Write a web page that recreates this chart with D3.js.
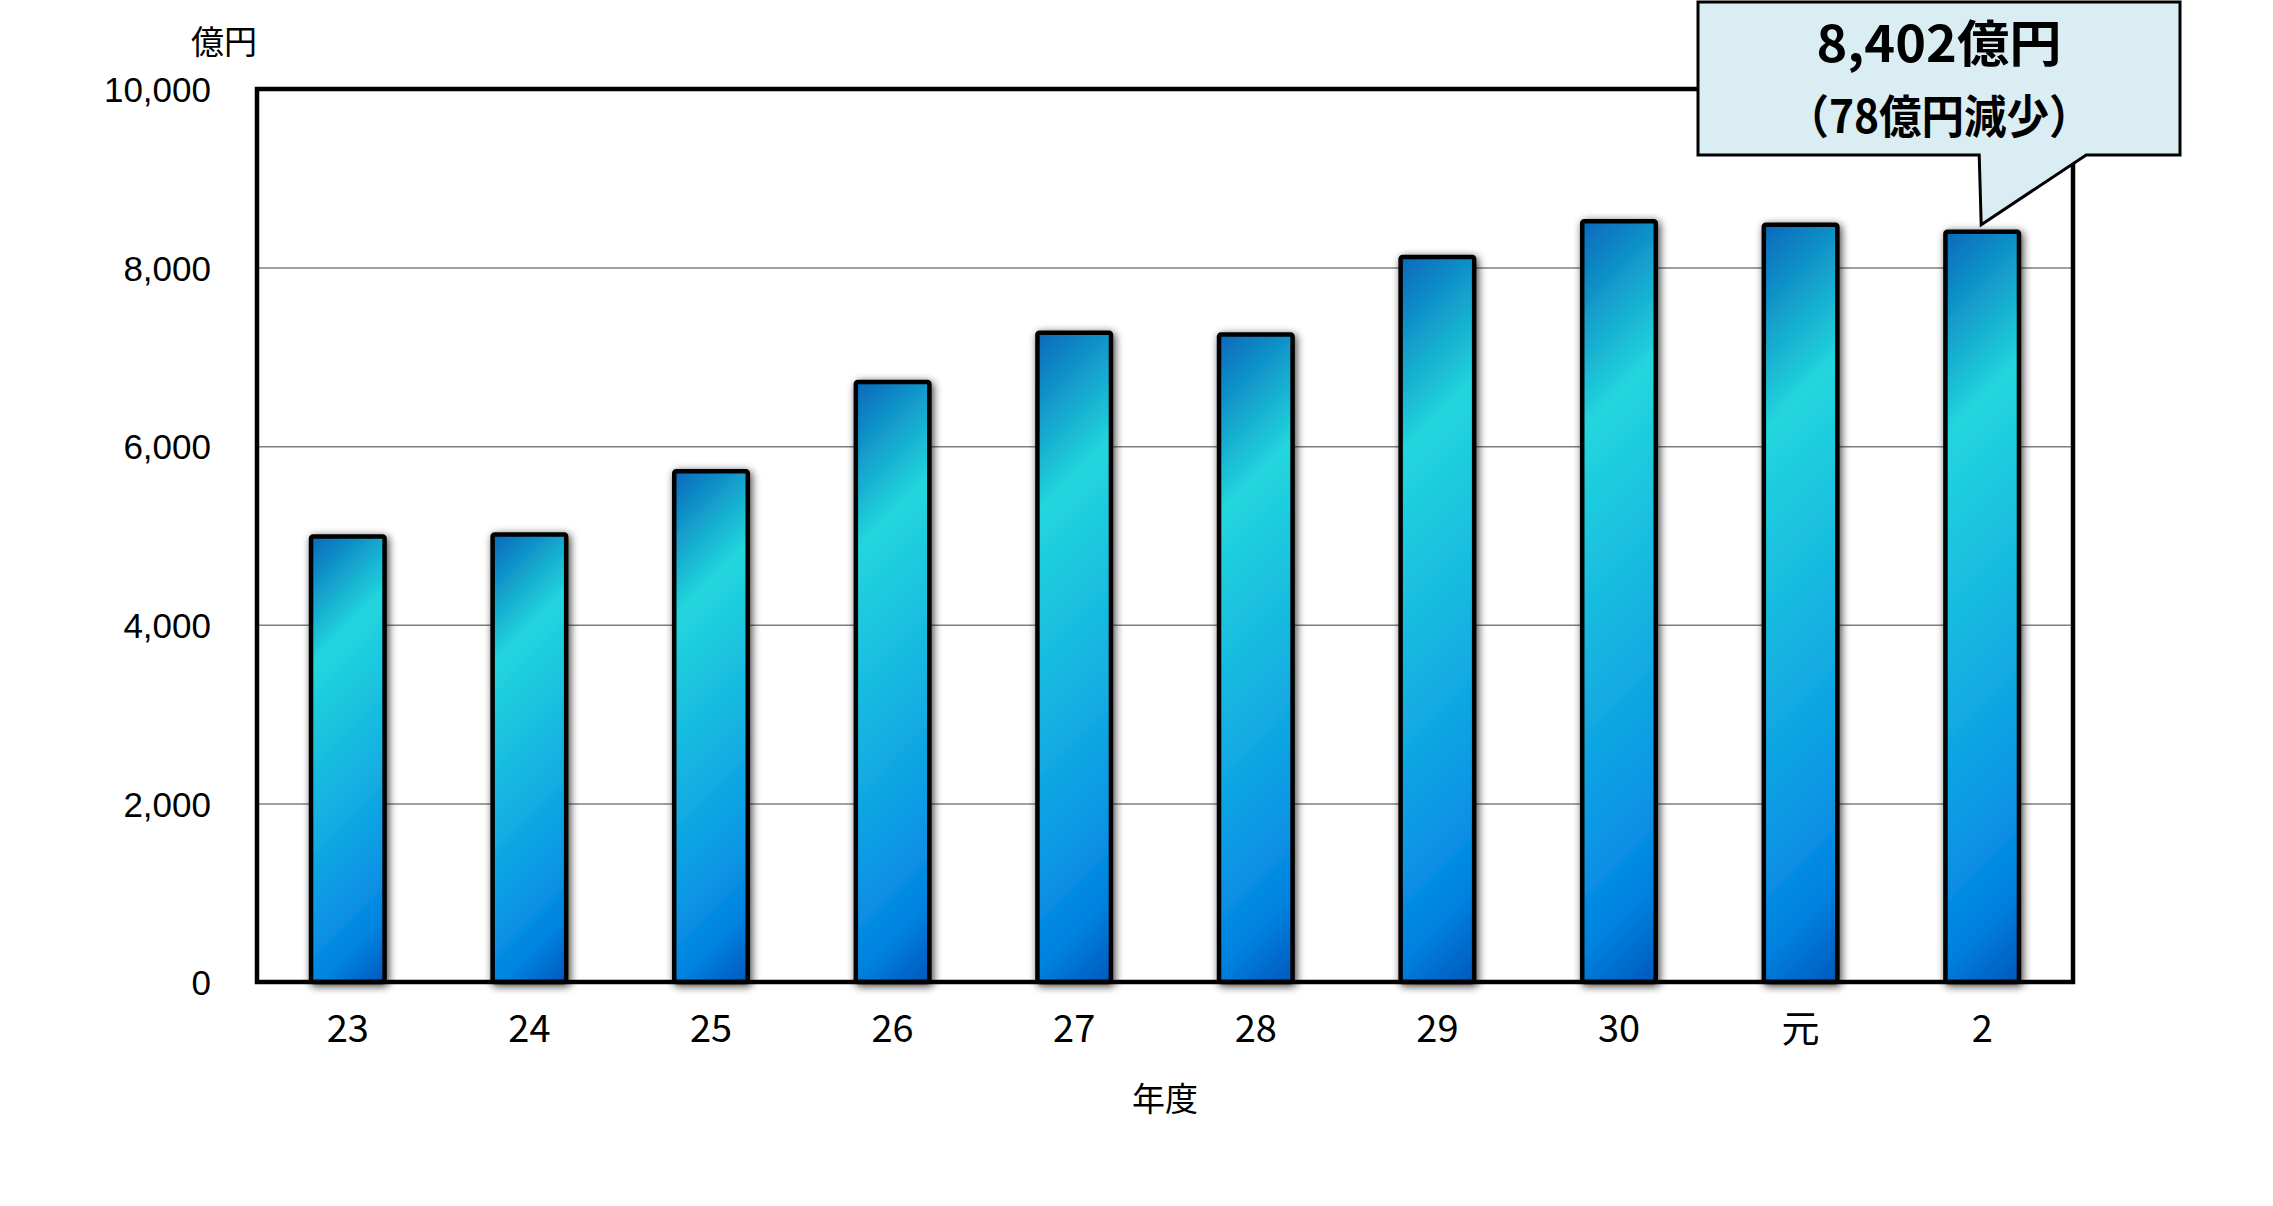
<!DOCTYPE html>
<html><head><meta charset="utf-8">
<script src="https://cdn.jsdelivr.net/npm/d3@7"></script>
<style>
html,body{margin:0;padding:0;background:#fff;}
svg{display:block;}
</style></head>
<body>
<script>
const categories = ["23","24","25","26","27","28","29","30","元","2"];
const values = [4990, 5010, 5720, 6720, 7270, 7250, 8120, 8520, 8480, 8402];
const yTicks = [0, 2000, 4000, 6000, 8000, 10000];
const yUnit = "億円";
const xTitle = "年度";
const calloutLines = ["8,402億円", "（78億円減少）"];

const W = 2273, H = 1206;
const m = {left: 257, right: W - 2073, top: 89, bottom: H - 982};
const svg = d3.select("body").append("svg").attr("width", W).attr("height", H);
const defs = svg.append("defs");

const x = d3.scaleBand().domain(categories).range([m.left, W - m.right])
  .paddingInner(0.595).paddingOuter(0.2975);
const y = d3.scaleLinear().domain([0, 10000]).range([H - m.bottom, m.top]);

// shadow filter
const f = defs.append("filter").attr("id","shadow").attr("x","-40%").attr("y","-10%").attr("width","180%").attr("height","120%");
f.append("feGaussianBlur").attr("in","SourceAlpha").attr("stdDeviation",4).attr("result","b");
f.append("feOffset").attr("in","b").attr("dx",2).attr("dy",2).attr("result","o");
f.append("feComponentTransfer").attr("in","o").attr("result","s")
  .append("feFuncA").attr("type","linear").attr("slope",0.75);
const mg = f.append("feMerge");
mg.append("feMergeNode").attr("in","s");
mg.append("feMergeNode").attr("in","SourceGraphic");

// gridlines
const grid = svg.append("g").attr("transform",`translate(${m.left},0)`)
  .call(d3.axisLeft(y).tickValues(yTicks.filter(t => t > 0 && t < 10000)).tickSize(-(W - m.left - m.right)).tickFormat(""));
grid.select(".domain").remove();
grid.selectAll("line").attr("stroke","#7f7f7f").attr("stroke-width",1.5);

// y tick labels
const ya = svg.append("g").attr("transform",`translate(${m.left},0)`)
  .call(d3.axisLeft(y).tickValues(yTicks).tickSize(0).tickPadding(46).tickFormat(d3.format(",")));
ya.select(".domain").remove();
ya.selectAll("text").attr("font-family","'Liberation Sans', Arial, sans-serif").attr("font-size",35).attr("fill","#000").attr("dy","0.36em");

// bars
const stops = [[0,"#0568bb"],[0.25,"#22d6dd"],[0.5,"#17b8e0"],[0.75,"#0b97e5"],[0.88,"#0282e0"],[1,"#0058bb"]];
categories.forEach((c,i) => {
  const x0 = x(c), y0 = y(values[i]), w = x.bandwidth(), h = y(0) - y(values[i]);
  const g = defs.append("linearGradient").attr("id","g"+i).attr("gradientUnits","userSpaceOnUse")
    .attr("x1",x0).attr("y1",y0).attr("x2",x0 + (w+h)/2).attr("y2",y0 + (w+h)/2);
  stops.forEach(s => g.append("stop").attr("offset",s[0]).attr("stop-color",s[1]));
});
svg.append("g").selectAll("rect").data(values).join("rect")
  .attr("x",(d,i) => x(categories[i]))
  .attr("y",d => y(d))
  .attr("width",x.bandwidth())
  .attr("height",d => y(0) - y(d))
  .attr("rx",2)
  .attr("fill",(d,i) => `url(#g${i})`)
  .attr("stroke","#000").attr("stroke-width",4.5)
  .attr("filter","url(#shadow)");

// frame
svg.append("rect").attr("x",m.left).attr("y",m.top).attr("width",W-m.left-m.right).attr("height",H-m.top-m.bottom)
  .attr("fill","none").attr("stroke","#000").attr("stroke-width",4.5);

// x axis labels
const xa = svg.append("g").attr("transform",`translate(0,${H - m.bottom})`)
  .call(d3.axisBottom(x).tickSize(0).tickPadding(0));
xa.select(".domain").remove();
xa.selectAll("text").attr("font-family","'Noto Sans CJK JP', sans-serif").attr("font-size",38).attr("fill","#000")
  .attr("y",60).attr("dy",0);

// axis titles
svg.append("text").attr("x",224).attr("y",54).attr("text-anchor","middle")
  .attr("font-family","'Noto Sans CJK JP', sans-serif").attr("font-size",33).attr("fill","#000").text(yUnit);
svg.append("text").attr("x",(m.left + W - m.right)/2).attr("y",1111).attr("text-anchor","middle")
  .attr("font-family","'Noto Sans CJK JP', sans-serif").attr("font-size",33).attr("fill","#000").text(xTitle);

// callout
const last = categories.length - 1;
const tipX = x(categories[last]) + x.bandwidth()/2 - 1;
const tipY = y(values[last]) - 7;
const bx0 = 1698, bx1 = 2180, by0 = 2, by1 = 155;
const path = `M${bx0},${by0}H${bx1}V${by1}H${tipX+105}L${tipX},${tipY}L${tipX-2},${by1}H${bx0}Z`;
svg.append("path").attr("d",path).attr("fill","#daedf3").attr("stroke","#000").attr("stroke-width",3).attr("stroke-linejoin","miter");
const cx = (bx0 + bx1)/2;
svg.append("text").attr("x",cx).attr("y",62).attr("text-anchor","middle")
  .attr("font-family","'Noto Sans CJK JP', sans-serif").attr("font-weight","bold").attr("font-size",50).attr("fill","#000")
  .attr("textLength",245).attr("lengthAdjust","spacingAndGlyphs").text(calloutLines[0]);
svg.append("text").attr("x",cx).attr("y",133).attr("text-anchor","middle")
  .attr("font-family","'Noto Sans CJK JP', sans-serif").attr("font-weight","bold").attr("font-size",46).attr("fill","#000")
  .attr("textLength",305).attr("lengthAdjust","spacingAndGlyphs").text(calloutLines[1]);
</script>
</body></html>
